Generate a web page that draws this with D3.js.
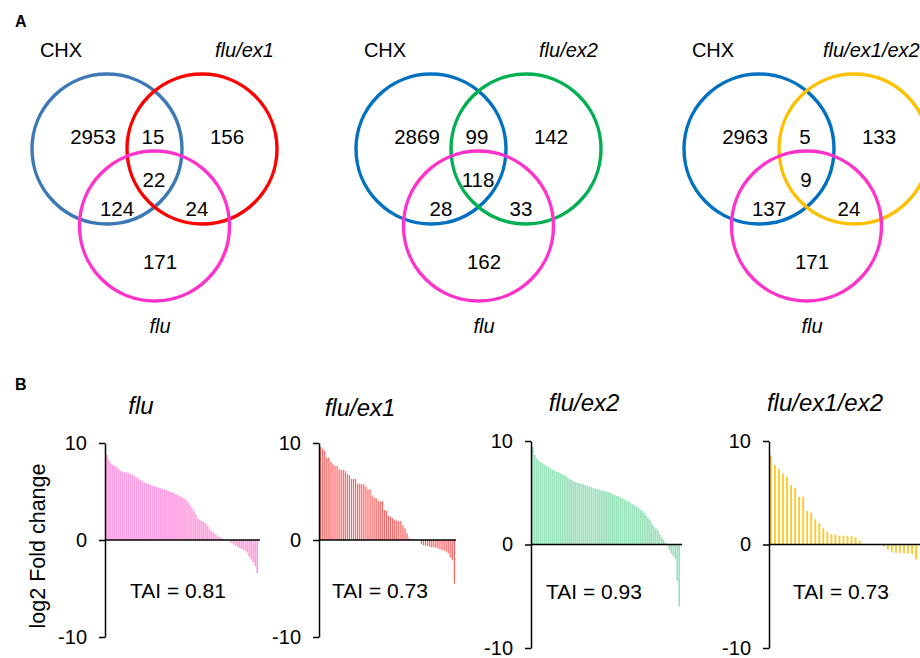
<!DOCTYPE html>
<html>
<head>
<meta charset="utf-8">
<script src="https://cdn.jsdelivr.net/npm/d3@7"></script>
<style>
  body { margin: 0; background: #fff; }
  svg { display: block; font-family: "Liberation Sans", Arial, sans-serif; }
</style>
</head>
<body>
<svg id="chart" width="920" height="658"></svg>
<script>
// ---- panel A: venn counts ----
// region order: CHX only, CHX&set, set only, all three, CHX&flu, set&flu, flu only
const vennSetNames = ['flu/ex1', 'flu/ex2', 'flu/ex1/ex2'];
const vennCounts1 = [2953, 15, 156, 22, 124, 24, 171];
const vennCounts2 = [2869, 99, 142, 118, 28, 33, 162];
const vennCounts3 = [2963, 5, 133, 9, 137, 24, 171];

// ---- panel B: log2 fold change, sorted ----
const barTitles = ['flu', 'flu/ex1', 'flu/ex2', 'flu/ex1/ex2'];
const taiValues = ['0.81', '0.73', '0.93', '0.73'];
const yTicks = [-10, 0, 10];

const fluValues = [8.8, 8.3, 7.9, 7.75, 7.65, 7.5, 7.3, 7.1, 7.05, 7.0, 6.95, 6.9, 6.8, 6.7, 6.6,
  6.45, 6.3, 6.15, 6.05, 5.95, 5.85, 5.8, 5.7, 5.6, 5.55, 5.5, 5.4, 5.35, 5.25, 5.2, 5.15,
  5.05, 4.95, 4.9, 4.8, 4.7, 4.6, 4.5, 4.4, 4.3, 4.1, 3.9, 3.6, 3.3, 3.0, 2.6, 2.2, 2.05,
  1.95, 1.85, 1.7, 1.45, 1.1, 0.9, 0.75, 0.6, 0.45, 0.3, 0.2, 0.1, 0.02, -0.05, -0.15,
  -0.3, -0.45, -0.6, -0.7, -0.8, -0.9, -1.0, -1.1, -1.3, -1.7, -2.0, -2.3, -2.7, -3.4];

const ex1Values = [9.6, 9.4, 9.2, 8.5, 8.5, 8.1, 7.8, 7.65, 7.65, 7.25, 7.25, 7.25, 7.1, 6.8,
  6.7, 6.3, 6.3, 6.3, 5.8, 5.8, 5.75, 5.75, 5.5, 5.2, 5.2, 4.6, 4.4, 4.3, 4.0, 4.0, 4.0,
  3.1, 3.0, 2.5, 2.4, 2.25, 2.1, 2.0, 1.95, 1.95, 1.5, 1.2, 0.7, 0.2, 0.1, 0.1, 0.05, 0.02,
  -0.05, -0.45, -0.55, -0.6, -0.6, -0.7, -0.75, -0.75, -0.8, -0.85, -0.95, -1.05, -1.1,
  -1.2, -1.4, -1.8, -2.1, -4.5];

const ex2Values = [9.45, 8.65, 8.3, 8.1, 7.95, 7.85, 7.7, 7.6, 7.5, 7.35, 7.25, 7.15, 7.05, 7.0,
  6.9, 6.8, 6.7, 6.6, 6.45, 6.3, 6.25, 6.1, 6.0, 5.95, 5.9, 5.85, 5.8, 5.75, 5.65, 5.6,
  5.55, 5.45, 5.4, 5.35, 5.3, 5.25, 5.2, 5.15, 5.1, 5.05, 4.95, 4.85, 4.8, 4.7, 4.65, 4.55,
  4.45, 4.35, 4.25, 4.15, 4.05, 3.9, 3.8, 3.7, 3.55, 3.4, 3.25, 3.05, 2.8, 2.6, 2.35, 2.05,
  1.75, 1.55, 1.35, 1.0, 0.7, 0.5, 0.2, -0.1, -0.55, -0.85, -1.1, -1.4, -3.5, -6.0];

const ex12Values = [8.6, 7.7, 7.3, 6.85, 6.55, 5.75, 5.45, 4.6, 4.6, 3.25, 3.1, 2.45, 2.05,
  1.55, 1.25, 1.0, 0.95, 0.85, 0.85, 0.85, 0.8, 0.7, 0.35, 0.05, 0.02, 0.0, -0.02, -0.05,
  -0.2, -0.5, -0.75, -0.8, -0.8, -0.85, -0.85, -0.95, -1.45];

const svg = d3.select('#chart');
const black = '#000';

// ================= panel A =================
svg.append('text').attr('x', 15).attr('y', 27)
  .attr('font-size', 16).attr('font-weight', 'bold').text('A');

const vennLayout = [
  {cx: 107, chxColor: '#3b78b5', setColor: '#ff0000', counts: vennCounts1},
  {cx: 431, chxColor: '#0070c0', setColor: '#00b050', counts: vennCounts2},
  {cx: 759, chxColor: '#0070c0', setColor: '#ffc000', counts: vennCounts3}
];
// region label offsets (px) from CHX circle centre
const regionOffsets = [[-14, -12], [46, -12], [120, -12], [47, 31], [10, 60], [90, 60], [53, 113]];

vennLayout.forEach((v, k) => {
  let vx = d3.scaleLinear().domain([0, 1]).range([v.cx, v.cx + 95]);
  let vy = d3.scaleLinear().domain([0, 1]).range([149, 226]);
  let r = 75;
  let g = svg.append('g');

  let circles = [
    {x: 0, y: 0, c: v.chxColor},
    {x: 1, y: 0, c: v.setColor},
    {x: 0.5, y: 1, c: '#ff33cc'}
  ];
  g.selectAll('circle').data(circles).enter().append('circle')
    .attr('cx', d => vx(d.x)).attr('cy', d => vy(d.y)).attr('r', r)
    .attr('fill', 'none').attr('stroke', d => d.c).attr('stroke-width', 3.4);

  g.selectAll('text.count').data(v.counts).enter().append('text')
    .attr('class', 'count')
    .attr('x', (d, i) => v.cx + regionOffsets[i][0])
    .attr('y', (d, i) => 149 + regionOffsets[i][1] + 7)
    .attr('text-anchor', 'middle').attr('font-size', 20.5)
    .text(d => d);

  g.append('text').attr('x', v.cx - 46).attr('y', 57)
    .attr('text-anchor', 'middle').attr('font-size', 20).text('CHX');

  // set label: right-aligned above the set circle; the last one starts at x=823 (runs to the edge)
  g.append('text').attr('y', 57)
    .attr('font-size', 20).attr('font-style', 'italic')
    .text(vennSetNames[k])
    .attr('x', function() { return k === 2 ? v.cx + 64 : v.cx + 167 - this.getComputedTextLength(); });

  g.append('text').attr('x', v.cx + 53).attr('y', 333)
    .attr('text-anchor', 'middle').attr('font-size', 20).attr('font-style', 'italic')
    .text('flu');
});

// ================= panel B =================
svg.append('text').attr('x', 15).attr('y', 390)
  .attr('font-size', 16).attr('font-weight', 'bold').text('B');

svg.append('text')
  .attr('transform', 'translate(45,546) rotate(-90)')
  .attr('text-anchor', 'middle').attr('font-size', 21.5).text('log2 Fold change');

const barLayout = [
  {ax: 105, top: 443, bot: 637, right: 260, barEnd: 258, pad: 0.15, color: '#ff9fe0', values: fluValues, titleX: 141, titleY: 414, taiX: 178, taiY: 598},
  {ax: 319, top: 443, bot: 637, right: 456, barEnd: 455, pad: 0.4, color: '#ff6464', values: ex1Values, titleX: 360, titleY: 416, taiX: 380, taiY: 598},
  {ax: 531, top: 441, bot: 648, right: 682, barEnd: 680, pad: 0.15, color: '#99e2bc', values: ex2Values, titleX: 584, titleY: 411, taiX: 594, taiY: 599},
  {ax: 769, top: 441, bot: 648, right: 925, barEnd: 769 + 4 * ex12Values.length, pad: 0.55, color: '#ffc91f', values: ex12Values, titleX: 825, titleY: 411, taiX: 841, taiY: 599}
];

barLayout.forEach((c, k) => {
  let g = svg.append('g');
  let y = d3.scaleLinear().domain([-10, 10]).range([c.bot, c.top]);
  let x = d3.scaleBand().domain(d3.range(c.values.length))
    .range([c.ax + 1, c.barEnd]).paddingInner(c.pad).paddingOuter(0);

  g.selectAll('rect').data(c.values).enter().append('rect')
    .attr('x', (d, i) => x(i))
    .attr('y', d => y(Math.max(0, d)))
    .attr('width', x.bandwidth())
    .attr('height', d => Math.abs(y(d) - y(0)))
    .attr('fill', c.color);

  // zero line
  g.append('line')
    .attr('x1', c.ax).attr('x2', c.right)
    .attr('y1', y(0)).attr('y2', y(0))
    .attr('stroke', black).attr('stroke-width', 1.5);

  let axis = g.append('g')
    .attr('transform', 'translate(' + c.ax + ',0)')
    .call(d3.axisLeft(y).tickValues(yTicks).tickSize(6).tickSizeOuter(0).tickPadding(12)
      .tickFormat(d => String(d)));
  axis.select('.domain').attr('stroke-width', 1.5);
  axis.selectAll('.tick line').attr('stroke-width', 1.5);
  axis.selectAll('.tick text')
    .attr('font-size', 20).attr('font-family', '"Liberation Sans", Arial, sans-serif')
    .attr('fill', black);

  g.append('text').attr('x', c.titleX).attr('y', c.titleY)
    .attr('text-anchor', 'middle').attr('font-size', 24).attr('font-style', 'italic')
    .text(barTitles[k]);

  g.append('text').attr('x', c.taiX).attr('y', c.taiY)
    .attr('text-anchor', 'middle').attr('font-size', 21)
    .text('TAI = ' + taiValues[k]);
});
</script>
</body>
</html>
